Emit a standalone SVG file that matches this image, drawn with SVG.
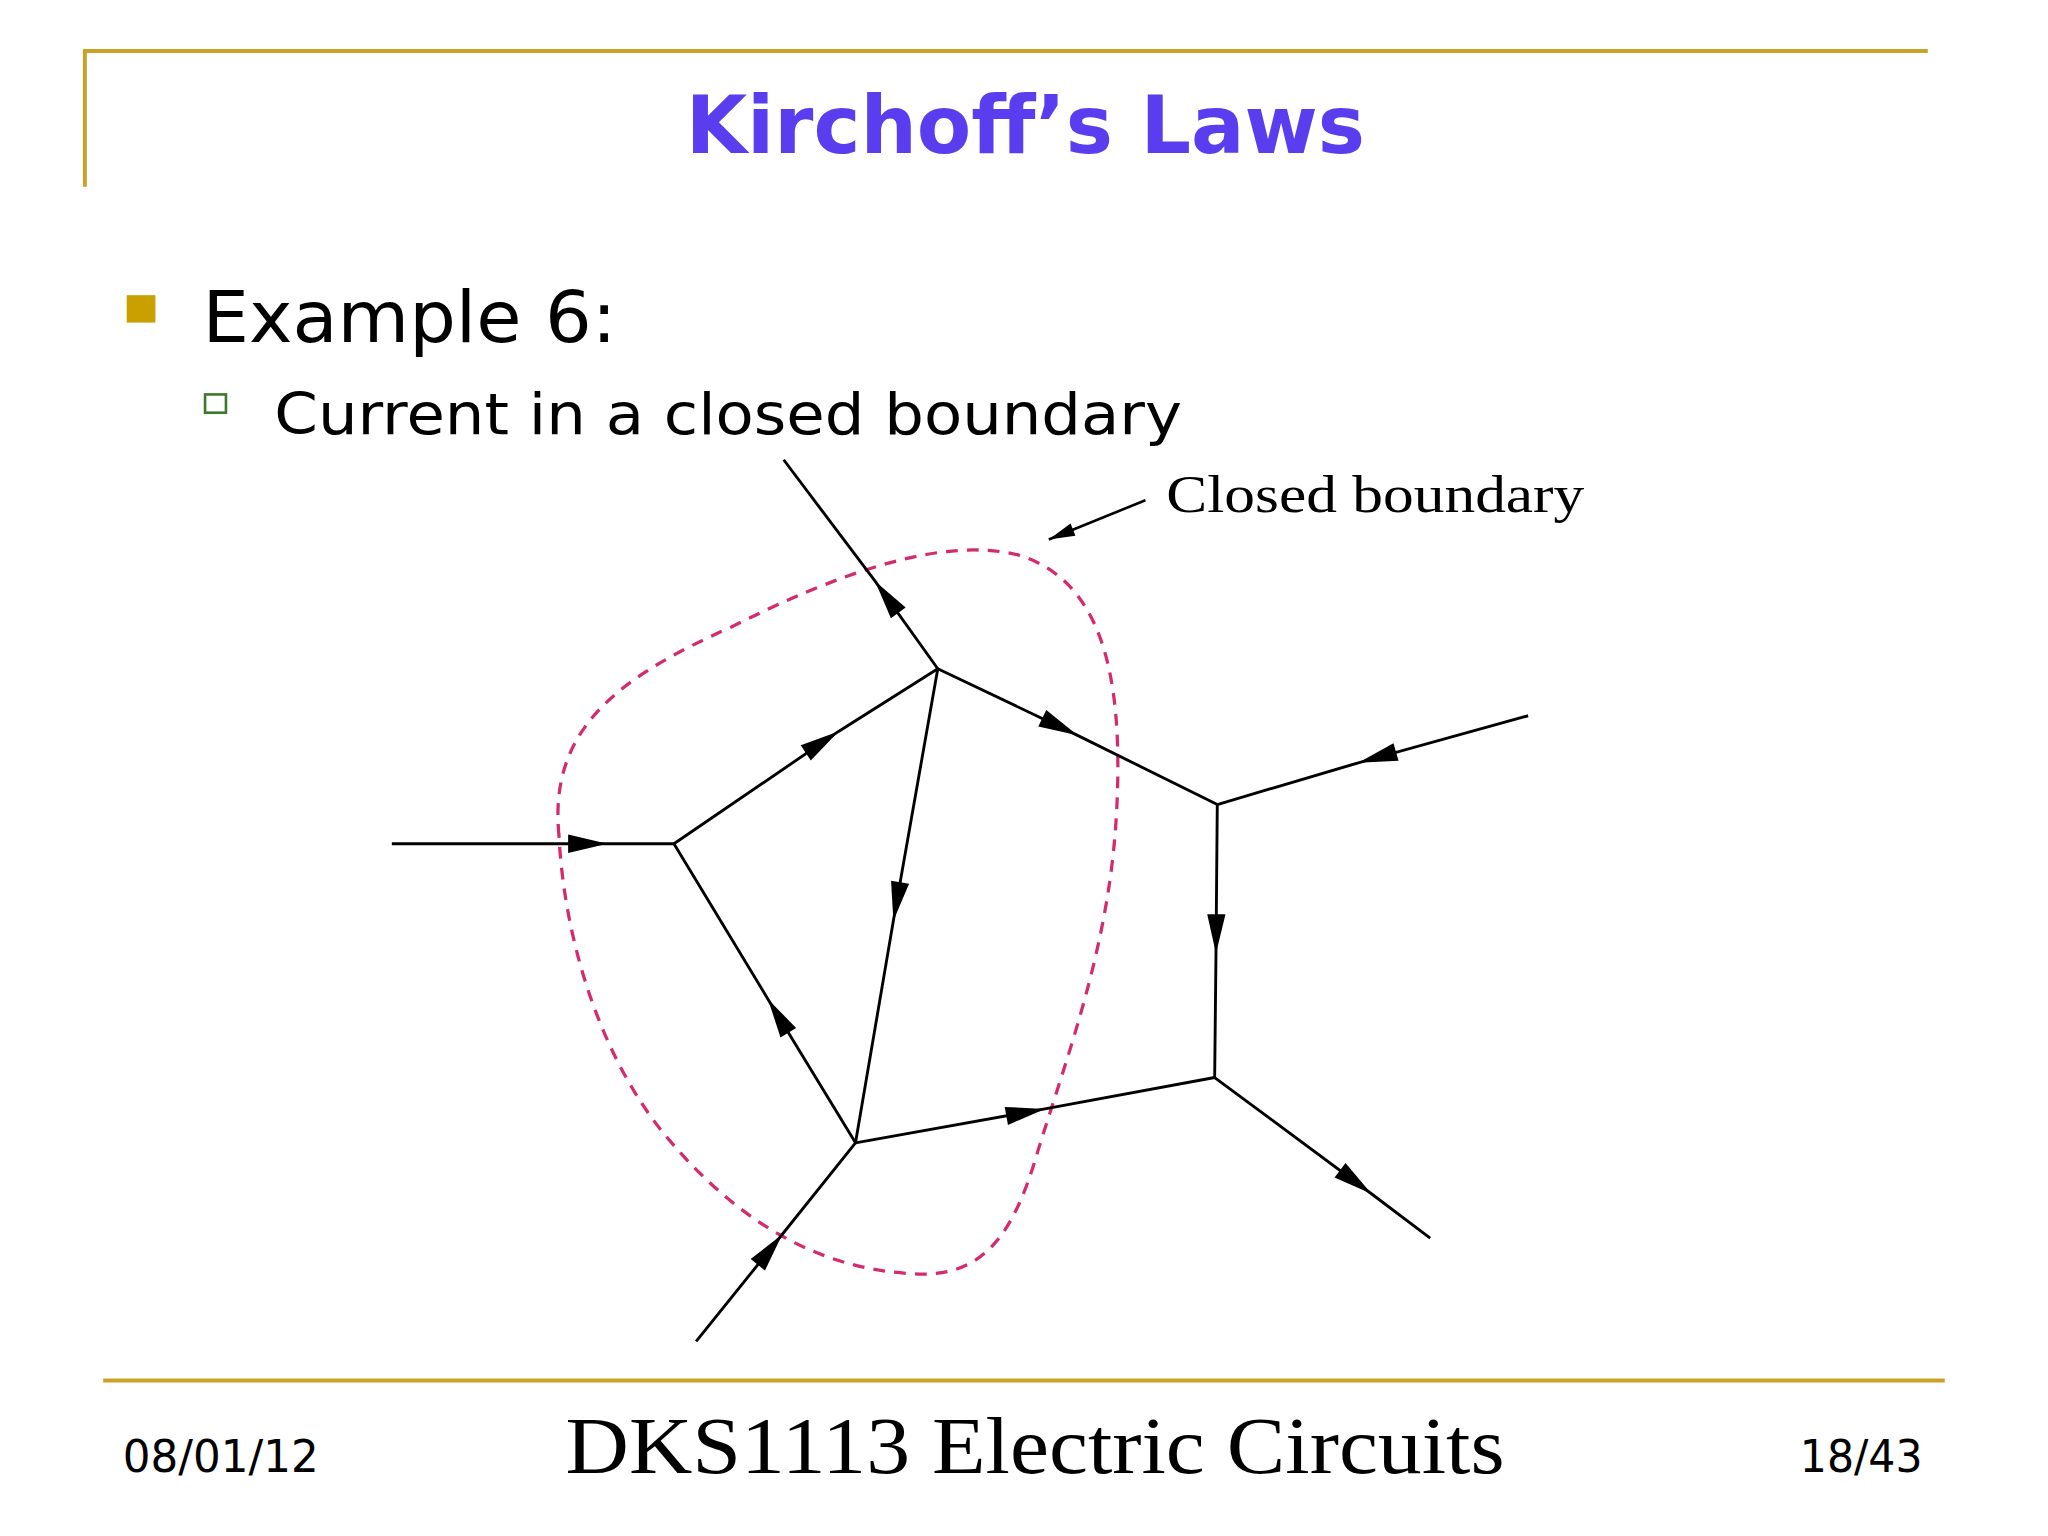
<svg xmlns="http://www.w3.org/2000/svg" width="2048" height="1536" viewBox="0 0 2048 1536">
<style>
.gold{stroke:#c9a227;stroke-width:3;fill:none}
.w{stroke:#000;stroke-width:2.2;fill:none;marker-mid:url(#ah)}
.s{font-family:"DejaVu Sans",Verdana,sans-serif}
.r{font-family:"Liberation Serif","Times New Roman",serif}
</style>
<defs>
<marker id="ah" markerUnits="userSpaceOnUse" markerWidth="40" markerHeight="20" viewBox="-32 -10 34 20" refX="0" refY="0" orient="auto">
<path d="M0,0 L-30,-7 L-30,7 z" fill="#000"/>
</marker>
<marker id="ah2" markerUnits="userSpaceOnUse" markerWidth="30" markerHeight="16" viewBox="-22 -8 24 16" refX="0" refY="0" orient="auto">
<path d="M0,0 L-20,-5 L-20,5 z" fill="#000"/>
</marker>
</defs>
<rect width="2048" height="1536" fill="#fff"/>
<g transform="scale(1.3061)">
<g id="frame">
<path class="gold" d="M65,143 V39 H1476"/>
<path class="gold" d="M79,1057 H1489"/>
</g>
<g id="title"><text class="s" x="785" y="117" text-anchor="middle" font-size="62" font-weight="bold" fill="#5b3df0" textLength="520" lengthAdjust="spacingAndGlyphs">Kirchoff’s Laws</text></g>
<g id="bullets">
<rect x="97" y="226" width="22" height="21" fill="#c9a000"/>
<text class="s" x="155" y="262" font-size="54" fill="#000" textLength="317" lengthAdjust="spacingAndGlyphs">Example 6:</text>
<rect x="157" y="302" width="16" height="14" fill="none" stroke="#3a7a2a" stroke-width="2"/>
<text class="s" x="210" y="332" font-size="44" fill="#000" textLength="695" lengthAdjust="spacingAndGlyphs">Current in a closed boundary</text>
</g>
<g id="boundary">
<path d="M428,640 C420,560 470,520 560,480 C640,440 720,410 780,425 C845,445 860,520 855,620 C850,720 820,800 795,880 C775,950 750,980 695,975 C620,970 560,930 510,870 C460,810 432,720 428,640 Z" fill="none" stroke="#d42a6e" stroke-width="2.5" stroke-dasharray="9,7"/>
</g>
<g id="connectors">
<path class="w" d="M300,646 L465,646 L516,646"/>
<path class="w" d="M516,646 L642,560 L718,512"/>
<path class="w" d="M718,512 L670,445 L600,352"/>
<path class="w" d="M718,512 L825,563 L932,616"/>
<path class="w" d="M1170,548 L1040,584 L932,616"/>
<path class="w" d="M932,616 L931,730 L930,825"/>
<path class="w" d="M718,512 L684,705 L655,875"/>
<path class="w" d="M655,875 L588,765 L516,646"/>
<path class="w" d="M655,875 L800,849 L930,825"/>
<path class="w" d="M930,825 L1050,914 L1095,948"/>
<path class="w" d="M533,1027 L599,945 L655,875"/>
<path d="M877,383 L803,413" stroke="#000" stroke-width="2" fill="none" marker-end="url(#ah2)"/>
</g>
<g id="label"><text class="r" x="893" y="392" font-size="40" fill="#000" textLength="320" lengthAdjust="spacingAndGlyphs">Closed boundary</text></g>
<g id="footer">
<text class="s" x="94" y="1127" font-size="34" fill="#000" textLength="150" lengthAdjust="spacingAndGlyphs">08/01/12</text>
<text class="r" x="433" y="1128" font-size="62" fill="#000" textLength="719" lengthAdjust="spacingAndGlyphs">DKS1113 Electric Circuits</text>
<text class="s" x="1378" y="1127" font-size="34" fill="#000" textLength="94" lengthAdjust="spacingAndGlyphs">18/43</text>
</g>
</g>
</svg>
